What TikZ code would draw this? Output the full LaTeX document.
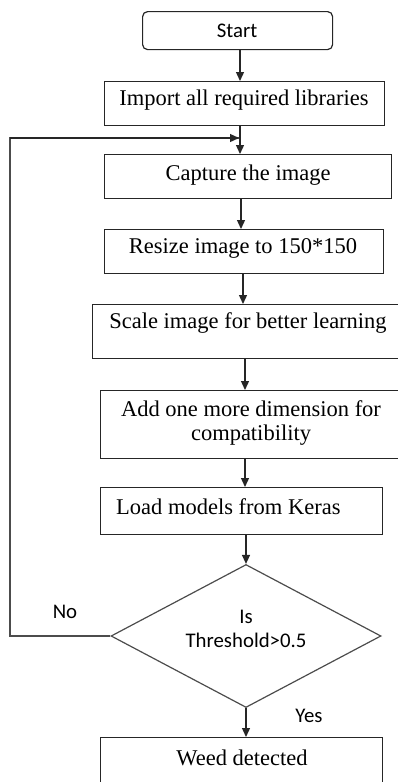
\documentclass[tikz,border=0pt]{standalone}
\usepackage{fontspec}
\setmainfont{Liberation Serif}
\newfontfamily\calib{Carlito}
\usetikzlibrary{arrows.meta,shapes.geometric}
\tikzset{
  box/.style={draw=black!85,line width=1.2pt,rectangle,inner sep=0pt,anchor=north west},
  txt/.style={font=\fontsize{22.5}{25}\selectfont,inner sep=0pt},
  ctxt/.style={font=\calib\fontsize{20.8}{23}\selectfont,inner sep=0pt},
  arr/.style={draw=black!85,line width=1.3pt,-{Triangle[length=9pt,width=8pt]}},
  ln/.style={draw=black!70,line width=1.3pt}
}
\begin{document}
\begin{tikzpicture}[x=1pt,y=-1pt]
\useasboundingbox (0,0) rectangle (398,782);
\clip (0,0) rectangle (398,782);
% boxes
\node[box,rounded corners=5pt,minimum width=190pt,minimum height=38pt] (start) at (142,11) {};
\node[ctxt] (starttxt) at (237,31) {Start};
\node[box,minimum width=280pt,minimum height=44pt] (import) at (104,81) {};
\node[txt] (importtxt) at (244,100) {Import all required libraries};
\node[box,minimum width=287pt,minimum height=44pt] (capture) at (104,154) {};
\node[txt] (capturetxt) at (248,175) {Capture the image};
\node[box,minimum width=279pt,minimum height=44pt] (resize) at (104,229) {};
\node[txt] (resizetxt) at (243,248) {Resize image to 150*150};
\node[box,minimum width=320pt,minimum height=54pt] (scale) at (92,304) {};
\node[txt] (scaletxt) at (248,323) {Scale image for better learning};
\node[box,minimum width=310pt,minimum height=68pt] (add) at (100,390) {};
\node[txt,align=center] (addtxt) at (251,423) {Add one more dimension for\\[-1pt]compatibility};
\node[box,minimum width=282pt,minimum height=47pt] (load) at (100,487) {};
\node[txt,anchor=west] (loadtxt) at (116,507) {Load models from Keras};
\node[draw=black!70,line width=1.2pt,diamond,aspect=1.888,minimum width=270pt,minimum height=143pt,inner sep=0pt] (dia) at (246,636) {};
\node[ctxt,align=center] (diatxt) at (246,629) {Is\\[1pt]Threshold>0.5};
\node[box,minimum width=282pt,minimum height=60pt] (weed) at (100,737) {};
\node[txt] (weedtxt) at (242,758) {Weed detected};
\node[ctxt] (no) at (65,612) {No};
\node[ctxt] (yes) at (309,716) {Yes};
% connectors
\coordinate (c1) at (240,0);
\coordinate (c2) at (241,0);
\coordinate (c3) at (243,0);
\coordinate (c4) at (245,0);
\coordinate (c5) at (246,0);
\draw[arr] (start.south -| c1) -- (import.north -| c1);
\draw[arr] (import.south -| c1) -- (capture.north -| c1);
\draw[arr] (capture.south -| c2) -- (resize.north -| c2);
\draw[arr] (resize.south -| c3) -- (scale.north -| c3);
\draw[arr] (scale.south -| c4) -- (add.north -| c4);
\draw[arr] (add.south -| c4) -- (load.north -| c4);
\draw[arr] (load.south -| c5) -- (dia.north);
\draw[arr] (dia.south) -- (weed.north -| dia.south);
\coordinate (lb) at (10,636);
\coordinate (lt) at (10,138);
\coordinate (le) at (239,138);
\draw[ln] (dia.west) -- (lb) -- (lt) -- (le);
\draw[arr] (lt) -- (le);
\end{tikzpicture}
\end{document}
